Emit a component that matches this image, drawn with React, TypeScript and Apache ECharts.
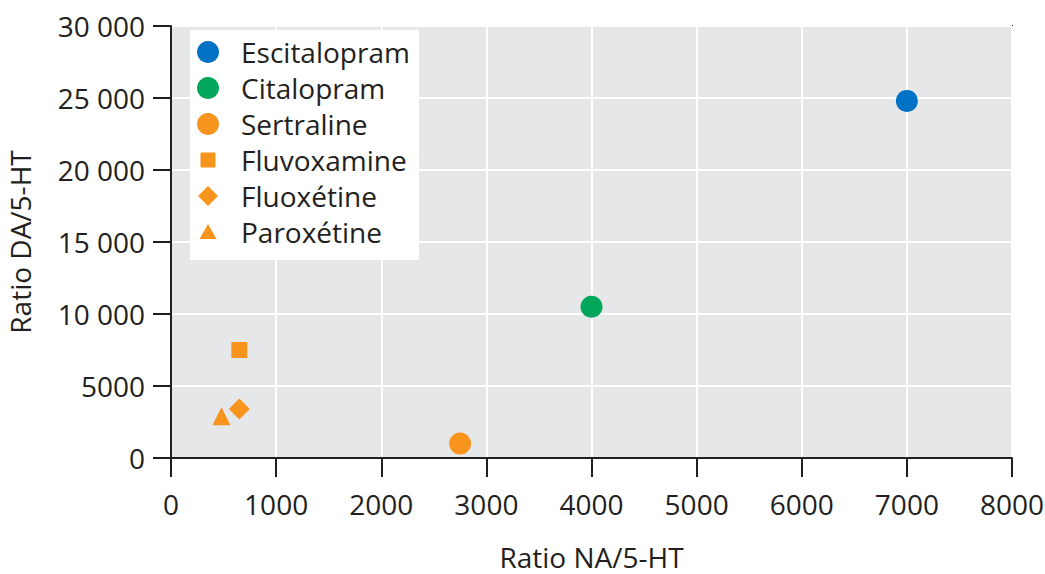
import React, { useEffect, useRef } from "react";
import * as echarts from "echarts";

const drugNames = ["Escitalopram", "Citalopram", "Sertraline", "Fluvoxamine", "Fluoxétine", "Paroxétine"];
const naRatio = [7000, 4000, 2750, 650, 650, 480];
const daRatio = [24800, 10500, 1000, 7500, 3400, 2900];
const drugColors = ["#0072c5", "#00a65a", "#f7941e", "#f7941e", "#f7941e", "#f7941e"];
const markerSymbols = ["circle", "circle", "circle", "rect", "diamond", "triangle"];
const markerSizes = [22, 22, 22, 16, 21, 18];

const xTicks = [0, 1000, 2000, 3000, 4000, 5000, 6000, 7000, 8000];
const yTicks = [0, 5000, 10000, 15000, 20000, 25000, 30000];

const FONT = "'Open Sans', sans-serif";
const TXT = "#231f20";
const FS = 28;

const legendIcons = [
  "circle",
  "circle",
  "circle",
  "path://M0,0M22,22M3.5,3.5L18.5,3.5L18.5,18.5L3.5,18.5Z",
  "path://M0,0M22,22M11,1L21,11L11,21L1,11Z",
  "path://M0,0M22,22M11,3L19.5,18L2.5,18Z",
];

function fmtY(v: number) {
  if (v >= 10000) {
    const s = String(v);
    return s.slice(0, s.length - 3) + " " + s.slice(s.length - 3);
  }
  return String(v);
}

function fmtX(v: number) {
  return String(v);
}

export default function App() {
  const ref = useRef<HTMLDivElement>(null);
  useEffect(() => {
    if (!ref.current) return;
    const chart = echarts.init(ref.current, undefined, { renderer: "svg" });
    chart.setOption({
      animation: false,
      textStyle: { fontFamily: FONT, color: TXT },
      grid: {
        left: 171,
        right: 33,
        top: 26,
        bottom: 116,
        containLabel: false,
        outerBoundsMode: "none",
        show: true,
        backgroundColor: "#e6e7e8",
        borderColor: TXT,
        borderWidth: 2,
      },
      legend: {
        orient: "vertical",
        left: 190,
        top: 30,
        backgroundColor: "#ffffff",
        padding: [8, 9, 14, 7],
        itemWidth: 22,
        itemHeight: 22,
        itemGap: 8,
        textStyle: { fontFamily: FONT, fontSize: FS, color: TXT, padding: [0, 0, 0, 17] },
        data: drugNames.map((n, i) => ({ name: n, icon: legendIcons[i] })),
      },
      xAxis: {
        type: "value",
        min: xTicks[0],
        max: xTicks[xTicks.length - 1],
        interval: 1000,
        name: "Ratio NA/5-HT",
        nameLocation: "middle",
        nameGap: 84,
        nameTextStyle: { fontFamily: FONT, fontSize: FS, color: TXT, lineHeight: 30 },
        axisLine: { lineStyle: { color: TXT, width: 2 } },
        axisTick: { show: true, length: 19, lineStyle: { color: TXT, width: 2 } },
        axisLabel: { fontFamily: FONT, fontSize: FS, color: TXT, margin: 32, formatter: fmtX },
        splitLine: { show: true, lineStyle: { color: "#ffffff", width: 2 } },
      },
      yAxis: {
        type: "value",
        min: yTicks[0],
        max: yTicks[yTicks.length - 1],
        interval: 5000,
        name: "Ratio DA/5-HT",
        nameLocation: "middle",
        nameGap: 137,
        nameTextStyle: { fontFamily: FONT, fontSize: FS, color: TXT },
        axisLine: { lineStyle: { color: TXT, width: 2 } },
        axisTick: { show: true, length: 18, lineStyle: { color: TXT, width: 2 } },
        axisLabel: { fontFamily: FONT, fontSize: FS, color: TXT, margin: 26, formatter: fmtY },
        splitLine: { show: true, lineStyle: { color: "#ffffff", width: 2 } },
      },
      series: drugNames.map((n, i) => ({
        name: n,
        type: "scatter",
        symbol: markerSymbols[i],
        symbolSize: markerSizes[i],
        itemStyle: { color: drugColors[i], opacity: 1 },
        data: [[naRatio[i], daRatio[i]]],
      })),
    });
    return () => chart.dispose();
  }, []);
  return (
    <div
      ref={ref}
      style={{ position: "fixed", left: 0, top: 0, width: 1045, height: 574, background: "#ffffff" }}
    />
  );
}
